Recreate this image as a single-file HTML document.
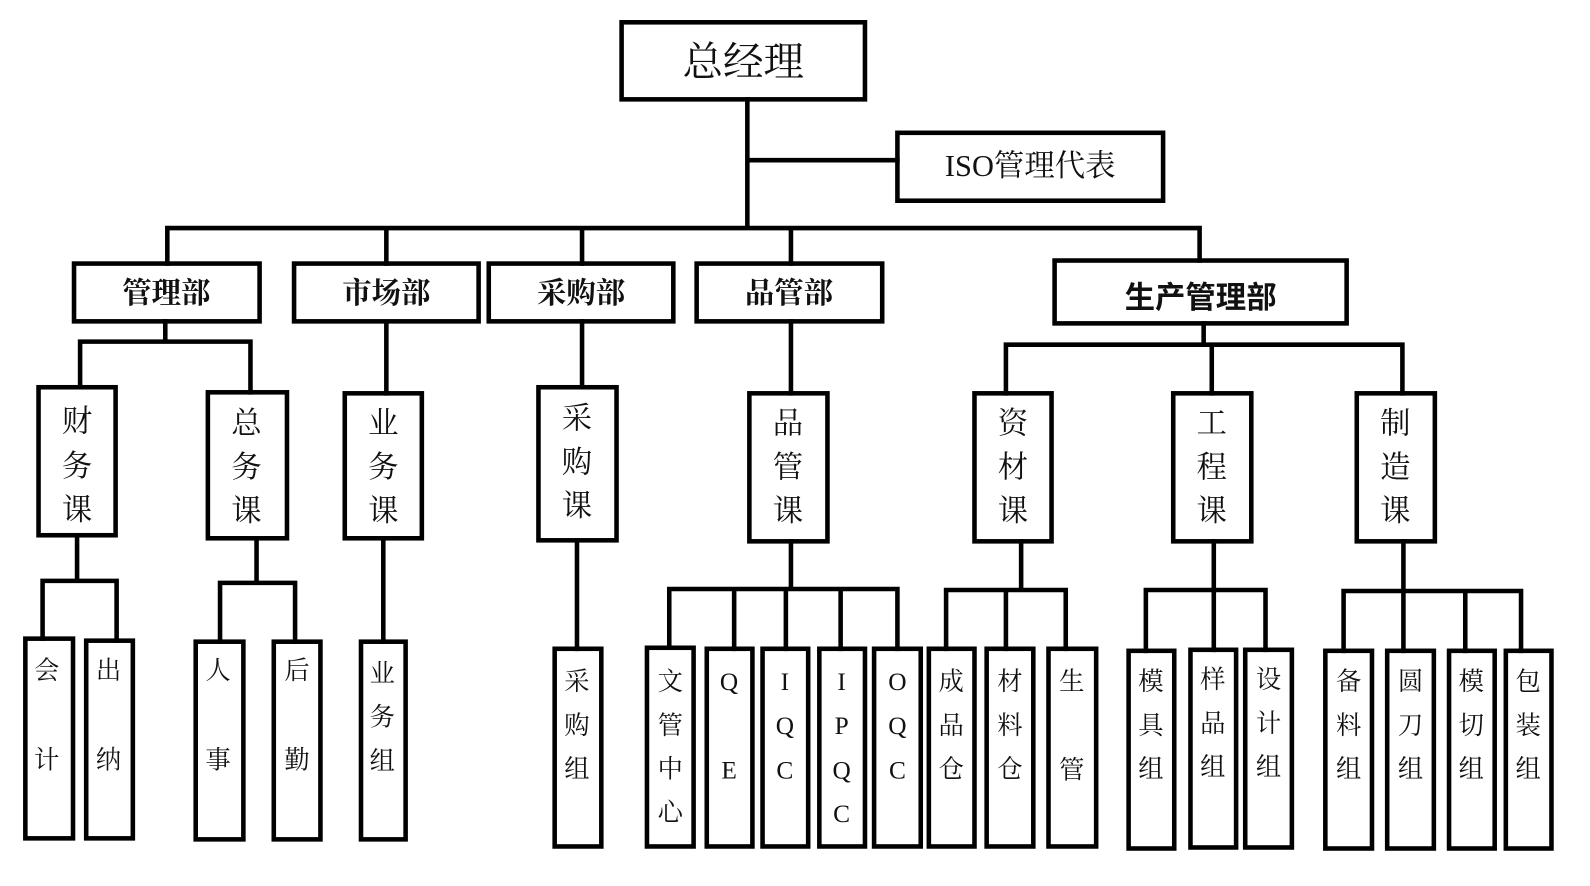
<!DOCTYPE html>
<html><head><meta charset="utf-8"><style>
html,body{margin:0;padding:0;background:#fff;}
svg{display:block;}
text{font-family:"Liberation Serif","Noto Serif CJK SC",serif;fill:#111;text-anchor:middle;dominant-baseline:central;}
</style></head><body>
<svg width="1590" height="886" viewBox="0 0 1568 874" preserveAspectRatio="none" xmlns="http://www.w3.org/2000/svg">
<g fill="#fff" stroke="#000" stroke-width="4.5">
<!-- top -->
<rect x="613" y="22" width="240" height="76"/>
<rect x="885" y="131" width="262" height="67"/>
<!-- depts -->
<rect x="73" y="260" width="183" height="57"/>
<rect x="290" y="260" width="182" height="57"/>
<rect x="482" y="260" width="182" height="57"/>
<rect x="687" y="260" width="183" height="57"/>
<rect x="1040" y="257" width="288" height="62"/>
<!-- sections -->
<rect x="38" y="382" width="76" height="146"/>
<rect x="205" y="387" width="78" height="144"/>
<rect x="340" y="388" width="76" height="143"/>
<rect x="531" y="382" width="77" height="151"/>
<rect x="739" y="388" width="77" height="146"/>
<rect x="961" y="388" width="76" height="146"/>
<rect x="1157" y="388" width="77" height="146"/>
<rect x="1338" y="388" width="77" height="146"/>
<!-- leaves -->
<rect x="25" y="630" width="47" height="197"/>
<rect x="85" y="632" width="46" height="195"/>
<rect x="193" y="633" width="47" height="195"/>
<rect x="270" y="633" width="46" height="195"/>
<rect x="356" y="633" width="44" height="195"/>
<rect x="547" y="640" width="46" height="195"/>
<rect x="638" y="639" width="46" height="196"/>
<rect x="697" y="640" width="45" height="195"/>
<rect x="752" y="640" width="45" height="195"/>
<rect x="808" y="640" width="45" height="195"/>
<rect x="862" y="640" width="46" height="195"/>
<rect x="916" y="640" width="45" height="195"/>
<rect x="973" y="640" width="46" height="195"/>
<rect x="1034" y="640" width="47" height="195"/>
<rect x="1113" y="642" width="45" height="195"/>
<rect x="1174" y="641" width="45" height="195"/>
<rect x="1228" y="641" width="46" height="195"/>
<rect x="1307" y="642" width="46" height="195"/>
<rect x="1368" y="642" width="46" height="195"/>
<rect x="1429" y="642" width="45" height="195"/>
<rect x="1485" y="642" width="45" height="195"/>
</g>
<g fill="none" stroke="#000" stroke-width="4.5" stroke-linecap="square">
<path d="M737 98V224M737 158H885M165 260V225H1183V257M381 225V260M574 225V260M780 225V260"/>
<path d="M163 317V337M79 382V337H247V387"/>
<path d="M381 320V388M574 317V382M780 317V388"/>
<path d="M1187 319V340M992 388V340H1383V388M1195 340V388"/>
<path d="M76 528V573M42 630V573H115V632"/>
<path d="M253 531V575M217 633V575H291V633"/>
<path d="M378 531V633M569 533V640"/>
<path d="M780 534V581M660 639V581H885V640M724 581V640M775 581V640M829 581V640"/>
<path d="M1007 534V582M933 640V582H1051V640M992 582V640"/>
<path d="M1197 534V582M1130 642V582H1248V641M1197 582V641"/>
<path d="M1384 534V583M1325 642V583H1500V642M1384 583V642M1445 583V642"/>
</g>
<text x="733" y="61" font-size="40">总经理</text>
<text x="1016" y="164" font-size="30">ISO管理代表</text>
<g font-size="29" font-weight="bold">
<text x="164" y="290">管理部</text>
<text x="381" y="290">市场部</text>
<text x="573" y="290">采购部</text>
<text x="778" y="290">品管部</text>
</g>
<text x="1184" y="294" font-size="30" font-weight="bold" style="font-family:'Liberation Sans','Noto Sans CJK SC',sans-serif">生产管理部</text>
<g font-size="30">
<text x="76" y="416">财</text><text x="76" y="460">务</text><text x="76" y="503">课</text>
<text x="243" y="418">总</text><text x="243" y="461">务</text><text x="243" y="504">课</text>
<text x="378" y="418">业</text><text x="378" y="461">务</text><text x="378" y="504">课</text>
<text x="569" y="413">采</text><text x="569" y="456">购</text><text x="569" y="499">课</text>
<text x="777" y="418">品</text><text x="777" y="461">管</text><text x="777" y="504">课</text>
<text x="999" y="418">资</text><text x="999" y="461">材</text><text x="999" y="504">课</text>
<text x="1195" y="418">工</text><text x="1195" y="461">程</text><text x="1195" y="504">课</text>
<text x="1376" y="418">制</text><text x="1376" y="461">造</text><text x="1376" y="504">课</text>
</g>
<g font-size="25">
<text x="46" y="662">会</text><text x="46" y="750">计</text>
<text x="107" y="662">出</text><text x="107" y="750">纳</text>
<text x="215" y="662">人</text><text x="215" y="750">事</text>
<text x="293" y="662">后</text><text x="293" y="750">勤</text>
<text x="377" y="665">业</text><text x="377" y="708">务</text><text x="377" y="751">组</text>
<text x="569" y="673">采</text><text x="569" y="716">购</text><text x="569" y="759">组</text>
<text x="661" y="673">文</text><text x="661" y="716">管</text><text x="661" y="759">中</text><text x="661" y="802">心</text>
<text x="719" y="673">Q</text><text x="719" y="760">E</text>
<text x="774" y="673">I</text><text x="774" y="716">Q</text><text x="774" y="760">C</text>
<text x="830" y="673">I</text><text x="830" y="716">P</text><text x="830" y="760">Q</text><text x="830" y="803">C</text>
<text x="885" y="673">O</text><text x="885" y="716">Q</text><text x="885" y="760">C</text>
<text x="938" y="673">成</text><text x="938" y="716">品</text><text x="938" y="759">仓</text>
<text x="996" y="673">材</text><text x="996" y="716">料</text><text x="996" y="759">仓</text>
<text x="1057" y="673">生</text><text x="1057" y="760">管</text>
<text x="1135" y="673">模</text><text x="1135" y="716">具</text><text x="1135" y="759">组</text>
<text x="1196" y="671">样</text><text x="1196" y="714">品</text><text x="1196" y="757">组</text>
<text x="1251" y="671">设</text><text x="1251" y="714">计</text><text x="1251" y="757">组</text>
<text x="1330" y="673">备</text><text x="1330" y="716">料</text><text x="1330" y="759">组</text>
<text x="1391" y="673">圆</text><text x="1391" y="716">刀</text><text x="1391" y="759">组</text>
<text x="1451" y="673">模</text><text x="1451" y="716">切</text><text x="1451" y="759">组</text>
<text x="1507" y="673">包</text><text x="1507" y="716">装</text><text x="1507" y="759">组</text>
</g>
</svg>
</body></html>
